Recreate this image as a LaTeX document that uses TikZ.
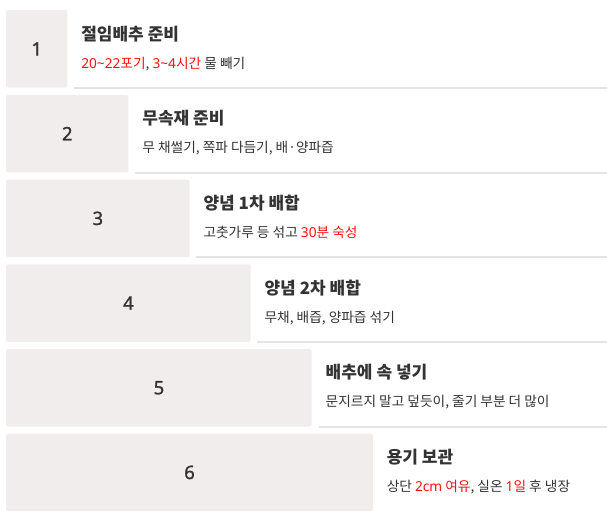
\documentclass[tikz,border=0pt]{standalone}
\usepackage{fontspec}
\setmainfont{Noto Sans CJK KR}
\newfontfamily\latfont{Noto Sans}
\newfontfamily\numfont{Noto Sans}[FakeBold=1.2]
\definecolor{boxgray}{HTML}{F1EDEC}
\definecolor{ink}{HTML}{333333}
\definecolor{hot}{HTML}{FF1010}
\definecolor{rulegray}{HTML}{E3E3E3}
\newcommand{\redtxt}[1]{\textcolor{hot}{#1}}
\newcommand{\lat}[1]{{\latfont #1}}

\begin{document}
\begin{tikzpicture}[x=1pt, y=-1pt,
                    stepbox/.style={fill=boxgray, rounded corners=1.5pt, inner sep=0pt,
                                    anchor=north west, minimum height=77.5pt,
                                    text=ink, font=\numfont\fontsize{18.5}{18.5}\selectfont},
                    steptitle/.style={anchor=base west, inner sep=0pt, text=ink,
                                      font=\bfseries\fontsize{17}{17}\selectfont},
                    stepdesc/.style={anchor=base west, inner sep=0pt, text=ink,
                                     font=\fontsize{13.7}{13.7}\selectfont},
                    steprule/.style={draw=rulegray, line width=2pt}
                   ]
\useasboundingbox (0,0) rectangle (607,512);
\pgfmathsetmacro{\w}{61.1}
\pgfmathsetmacro{\h}{84.7}

\foreach \k/\ttl/\dsc
[evaluate={
            \ytop=10+(\k-1)*\h;
            \xr=6+\k*\w;
            \ybot=\ytop+78;
            }]
 in {1/{절임배추 준비}/{\redtxt{\lat{20\textasciitilde 22}포기}, \redtxt{\lat{3\textasciitilde 4}시간} 물 빼기},
     2/{무속재 준비}/{무 채썰기, 쪽파 다듬기, 배·양파즙},
     3/{양념 1차 배합}/{고춧가루 등 섞고 \redtxt{\lat{30}분 숙성}},
     4/{양념 2차 배합}/{무채, 배즙, 양파즙 섞기},
     5/{배추에 속 넣기}/{문지르지 말고 덮듯이, 줄기 부분 더 많이},
     6/{용기 보관}/{상단 \redtxt{\lat{2cm} 여유}, 실온 \redtxt{\lat{1}일} 후 냉장}}{
    \node [stepbox, minimum width={\k*\w}] (b\k) at (6,\ytop) {\k};
    \node [steptitle] (t\k) at (\xr+14,\ytop+30) {\ttl};
    \node [stepdesc] (d\k) at (\xr+14,\ytop+58) {\dsc};
    \ifnum\k<6
      \draw [steprule] (\xr+7,\ybot) -- (607,\ybot);
    \fi
  }
\end{tikzpicture}
\end{document}
